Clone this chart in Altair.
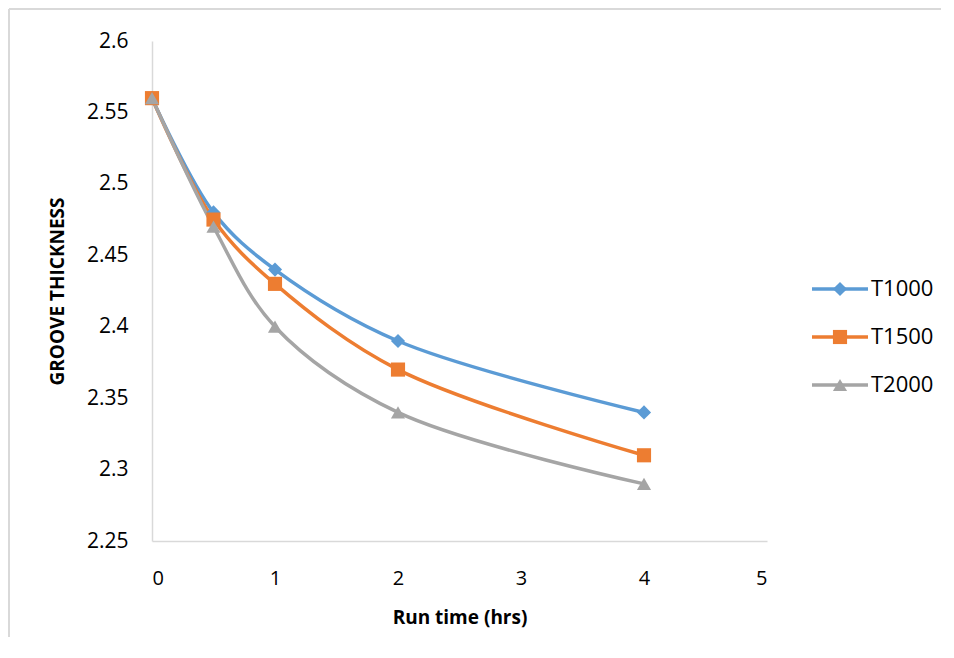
import altair as alt
import pandas as pd

run_time = [0, 0.5, 1, 2, 4]
t1000 = [2.56, 2.48, 2.44, 2.39, 2.34]
t1500 = [2.56, 2.475, 2.43, 2.37, 2.31]
t2000 = [2.56, 2.47, 2.40, 2.34, 2.29]
series_names = ["T1000", "T1500", "T2000"]
colors = ["#5B9BD5", "#ED7D31", "#A5A5A5"]
shapes = ["diamond", "square", "triangle-up"]
y_ticks = [2.25, 2.3, 2.35, 2.4, 2.45, 2.5, 2.55, 2.6]
x_ticks = [0, 1, 2, 3, 4, 5]

rows = []
for name, vals in zip(series_names, [t1000, t1500, t2000]):
    for t, v in zip(run_time, vals):
        rows.append({"time": t, "value": v, "series": name})
df = pd.DataFrame(rows)
leg = pd.DataFrame({"series": series_names})

FONT = "Open Sans"
color = alt.Color("series:N", scale=alt.Scale(domain=series_names, range=colors), legend=None)
shape = alt.Shape("series:N", scale=alt.Scale(domain=series_names, range=shapes), legend=None)

x = alt.X("time:Q", scale=alt.Scale(domain=[0, 5], nice=False),
          axis=alt.Axis(values=x_ticks, title="Run time (hrs)", grid=False, ticks=False,
                        domainColor="#d9d9d9", domainWidth=1.5, labelPadding=27,
                        labelFont=FONT, labelFontSize=20, labelColor="#000000",
                        titleFont=FONT, titleFontSize=19, titleFontWeight="bold",
                        titleColor="#000000", titlePadding=20))
y = alt.Y("value:Q", scale=alt.Scale(domain=[2.25, 2.6], nice=False, zero=False),
          axis=alt.Axis(values=y_ticks, format="~g", title="GROOVE THICKNESS", grid=False,
                        ticks=False, domainColor="#d9d9d9", domainWidth=1.5, labelPadding=24,
                        labelFont=FONT, labelFontSize=21, labelColor="#000000",
                        titleFont=FONT, titleFontSize=19, titleFontWeight="bold",
                        titleColor="#000000", titlePadding=19))

base = alt.Chart(df)
lines = base.mark_line(interpolate="catmull-rom", strokeWidth=3.5).encode(x=x, y=y, color=color, detail="series:N")
points = base.mark_point(filled=True, size=200, opacity=1).encode(x=x, y=y, color=color, shape=shape)

frame_top = alt.Chart(leg).mark_rule(stroke="#d9d9d9", strokeWidth=1.5, strokeCap="butt").encode(
    x=alt.value(-143), x2=alt.value(789), y=alt.value(-32))
frame_left = alt.Chart(leg).mark_rule(stroke="#d9d9d9", strokeWidth=1.5, strokeCap="butt").encode(
    x=alt.value(-143), y=alt.value(-32), y2=alt.value(596))

main = alt.layer(frame_top, frame_left, lines, points)

ly = alt.Y("series:N", scale=alt.Scale(domain=series_names, range=[248, 344], type="point", padding=0), axis=None)
lbase = alt.Chart(leg)
lrule = lbase.mark_rule(strokeWidth=3.5).encode(x=alt.value(660), x2=alt.value(716), y=ly, color=color)
lpoint = lbase.mark_point(filled=True, size=200, opacity=1).encode(x=alt.value(688), y=ly, color=color, shape=shape)
ltext = lbase.mark_text(align="left", baseline="middle", font=FONT, fontSize=22, color="#000000").encode(
    x=alt.value(719), y=ly, text="series:N")
legend = alt.layer(lrule, lpoint, ltext)

chart = alt.layer(main, legend).resolve_scale(y="independent").properties(
    width=615, height=500,
    autosize=alt.AutoSizeParams(type="none"),
    padding={"left": 144, "top": 33, "right": 175, "bottom": 97},
).configure(background="white").configure_view(strokeWidth=0, stroke="transparent")

chart.save("out.html", embed_options={"renderer": "svg", "actions": False})
